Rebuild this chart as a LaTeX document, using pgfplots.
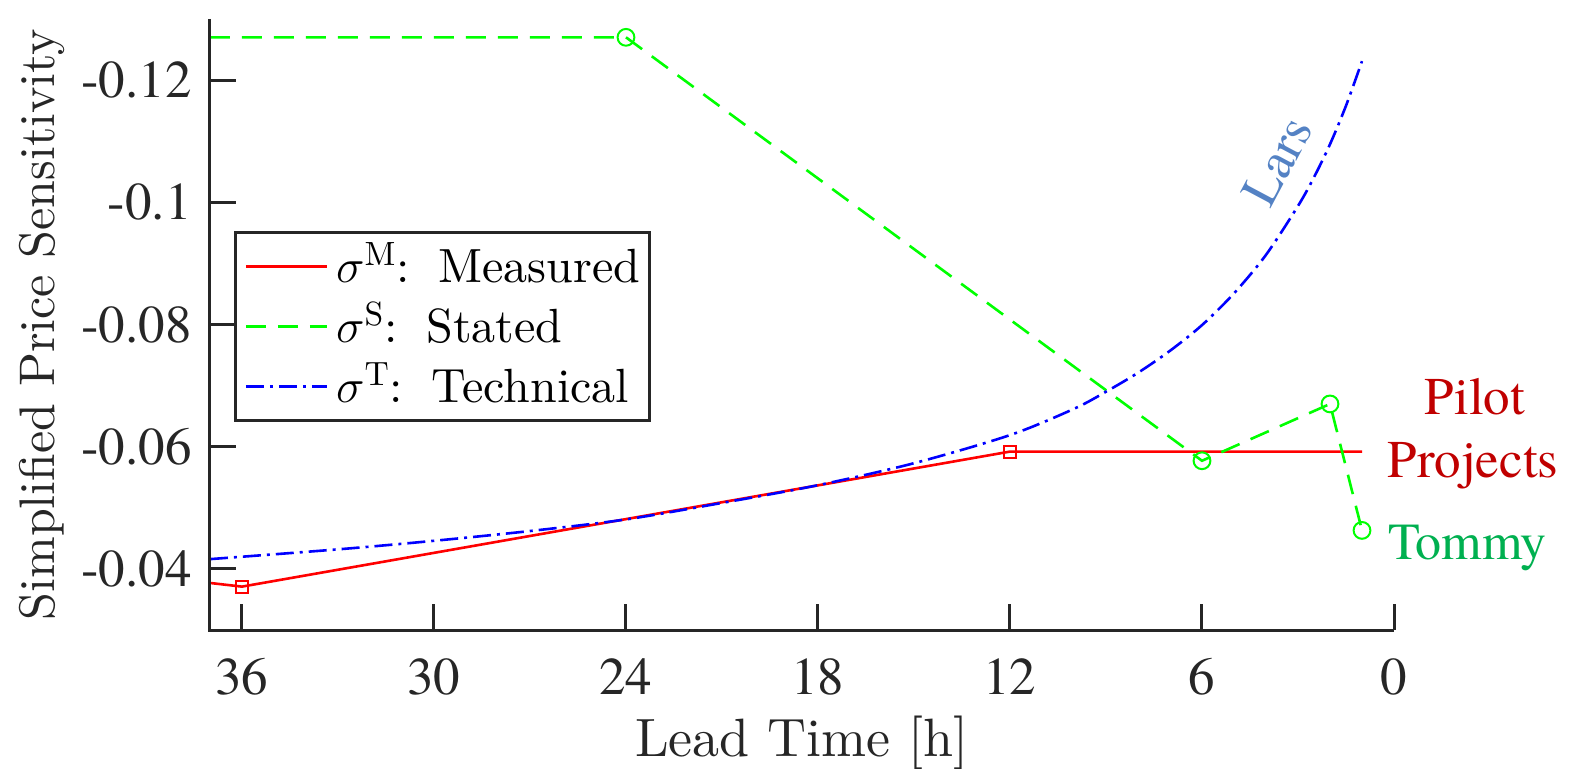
\RequirePackage{fix-cm}
\documentclass[border=0pt]{standalone}
\usepackage{fontspec}
\usepackage{pgfplots}
\pgfplotsset{compat=1.18}
\setmainfont{lmroman10-regular.otf}[BoldFont=lmroman10-bold.otf, ItalicFont=lmroman10-italic.otf]
\newfontfamily\timesf{texgyretermes-regular.otf}
\definecolor{axgray}{RGB}{38,38,38}
\definecolor{larsblue}{RGB}{84,130,196}
\definecolor{pilotred}{RGB}{192,0,0}
\definecolor{tommygreen}{RGB}{0,176,80}
\definecolor{lgreen}{RGB}{0,255,0}
\begin{document}
\begin{tikzpicture}
\useasboundingbox (0,0) rectangle (788.5pt,384.5pt);
\begin{axis}[
  at={(105pt,69.5pt)}, anchor=south west,
  scale only axis, width=592pt, height=305.5pt,
  x dir=reverse, y dir=reverse,
  xmin=0, xmax=37, ymin=-0.13, ymax=-0.03,
  clip=false,
  axis line style={draw=none},
  xtick={0,6,12,18,24,30,36}, xticklabels={0,6,12,18,24,30,36},
  ytick={-0.12,-0.1,-0.08,-0.06,-0.04}, yticklabels={-0.12,-0.1,-0.08,-0.06,-0.04},
  xtick pos=bottom, ytick pos=left,
  tick align=inside, major tick length=13pt, minor tick num=0,
  every tick/.style={line width=1.5pt, draw=axgray},
  xticklabel style={font=\timesf\fontsize{26.5}{30}\selectfont, text=axgray, inner sep=0pt, yshift=-14pt},
  yticklabel style={font=\timesf\fontsize{26.5}{30}\selectfont, text=axgray, inner sep=0pt, xshift=-9pt},
  every axis x label/.style={at={(axis description cs:0.5,-0.2074)}, anchor=base, font=\fontsize{27}{32}\selectfont, text=axgray, inner sep=0pt},
  every axis y label/.style={at={(axis description cs:-0.1309,0.5)}, anchor=base, rotate=90, font=\fontsize{25}{30}\selectfont, text=axgray, inner sep=0pt},
  xlabel={Lead Time [h]},
  ylabel={Simplified Price Sensitivity},
  legend style={at={(0.0203,0.653)}, anchor=north west, draw=axgray, line width=1.5pt,
    font=\fontsize{24}{29}\selectfont, text=black, inner xsep=4.5pt, inner ysep=5.5pt,
    row sep=7pt, column sep=4pt,
    nodes={inner sep=0pt, text height=19.5pt, text depth=3.5pt}},
  legend cell align=left,
  legend image code/.code={\draw[#1] (0pt,0pt) -- (40.5pt,0pt);},
]
\addplot[red, line width=1.3pt, mark=square, mark size=3pt, mark indices={2,3},
  mark options={solid, line width=1pt}]
  coordinates {(37,-0.0377) (36,-0.0371) (12,-0.0592) (1,-0.0592)};
\addlegendentry{$\sigma^{\mathrm{M}}$:\hspace{0.6em}Measured}
\addplot[lgreen, line width=1.3pt, dash pattern=on 10pt off 6pt, mark=o, mark size=4.2pt,
  mark indices={2,3,4,5}, mark options={solid, line width=1pt}]
  coordinates {(37,-0.1270) (24,-0.1270) (6,-0.0577) (2,-0.0670) (1,-0.0463)};
\addlegendentry{$\sigma^{\mathrm{S}}$:\hspace{0.6em}Stated}
\addplot[blue, line width=1.3pt, dash pattern=on 9pt off 3pt on 1.5pt off 3pt, smooth]
  coordinates {(37,-0.0416) (33,-0.0432) (30,-0.0446) (27,-0.0462) (24,-0.0481)
  (21,-0.0508) (18,-0.0537) (15,-0.0573) (12,-0.0619) (10,-0.0662) (9,-0.0690)
  (8,-0.0721) (7,-0.0757) (6,-0.0799) (5,-0.0851) (4,-0.0914) (3,-0.0994)
  (2.5,-0.1041) (2,-0.1095) (1.5,-0.1158) (1,-0.1231)};
\addlegendentry{$\sigma^{\mathrm{T}}$:\hspace{0.6em}Technical}
\draw[axgray, line width=1.5pt] (axis cs:37,-0.13) -- (axis cs:37,-0.03) -- (axis cs:0,-0.03);
\end{axis}
\node[font=\timesf\fontsize{26}{30}\selectfont, text=larsblue, rotate=62, inner sep=0pt] at (638.5pt,304pt) {Lars};
\node[font=\timesf\fontsize{26.5}{30}\selectfont, text=pilotred, anchor=base, inner sep=0pt] at (737.5pt,177pt) {Pilot};
\node[font=\timesf\fontsize{26.5}{30}\selectfont, text=pilotred, anchor=base, inner sep=0pt] at (736.5pt,145.5pt) {Projects};
\node[font=\timesf\fontsize{26}{30}\selectfont, text=tommygreen, anchor=base west, inner sep=0pt] at (694pt,104.5pt) {Tommy};
\end{tikzpicture}
\end{document}
